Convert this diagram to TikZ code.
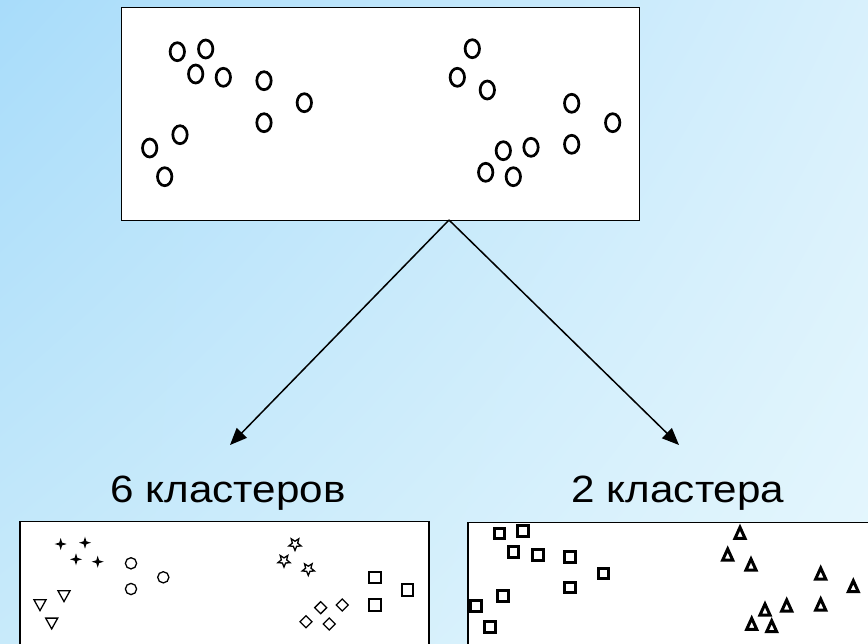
\documentclass[tikz,border=0pt]{standalone}
\usepackage{fontspec}
\setmainfont{Liberation Sans}
\usetikzlibrary{arrows.meta,shadings}
\definecolor{bgUL}{RGB}{168,220,250}
\definecolor{bgUR}{RGB}{216,240,252}
\definecolor{bgLL}{RGB}{200,234,250}
\definecolor{bgLR}{RGB}{230,247,253}
\tikzset{
  panel/.style={draw=black, fill=white, line width=1pt},
  arr/.style={line width=1.5pt, -{Triangle[length=17pt,width=14pt]}},
  lab/.style={font=\fontsize{38}{44}\selectfont, anchor=base, inner sep=0pt},
  bigcirc/.style={line width=2.7pt},
  thinmark/.style={line width=1.3pt},
  thickmark/.style={line width=3pt, line join=miter},
}
\begin{document}
\begin{tikzpicture}[x=1pt,y=-1pt]
\useasboundingbox (0,0) rectangle (868,643);
\clip (0,0) rectangle (868,643);
\shade[upper left=bgUL, upper right=bgUR, lower left=bgLL, lower right=bgLR] (0,0) rectangle (868,643);

% top panel
\node[panel, minimum width=518pt, minimum height=213pt, inner sep=0pt] (top) at (380,113.5) {};
\foreach \x/\y in {177.3/51.7, 205.7/49, 195.7/74, 223.3/77.3, 264/80.7, 304.3/102.7, 264/122.7,
  180/134.7, 149.7/148, 164.7/176.7, 472.3/48.7, 457.3/77.3, 487.3/90, 571.7/103.3, 612.7/122.7,
  571.7/144.3, 531/147.3, 503.3/150.7, 485.7/172.3, 513.3/176.7}
  \draw[bigcirc] (\x,\y) ellipse [x radius=7.2pt, y radius=9pt];

% bottom-left panel
\node[panel, line width=1.3pt, minimum width=409pt, minimum height=140pt, inner sep=0pt, anchor=north west] (left) at (19.3,521) {};
% 4-point stars
\foreach \x/\y in {60.7/544, 85/542.7, 76/559.3, 97.7/561.7}
  \fill[shift={(\x,\y)}] (0,-6) -- (1.4,-1.4) -- (6,0) -- (1.4,1.4) -- (0,6) -- (-1.4,1.4) -- (-6,0) -- (-1.4,-1.4) -- cycle;
% circles
\foreach \x/\y in {131/563.3, 163.3/577.3, 131/589}
  \draw[thinmark] (\x,\y) circle [radius=5.6pt];
% down triangles
\foreach \x/\y in {64/596, 40/605, 51.7/623.3}
  \draw[thinmark, line join=miter, shift={(\x,\y)}] (-6,-5.2) -- (6,-5.2) -- (0,5.6) -- cycle;
% stars
\foreach \x/\y in {295/544, 284/560.7, 308.3/569}
  \draw[thinmark, line join=miter, shift={(\x,\y)}]
    (90:6.4) -- (126:2.8) -- (162:6.4) -- (198:2.8) -- (234:6.4) -- (270:2.8) -- (306:6.4) -- (342:2.8) -- (18:6.4) -- (54:2.8) -- cycle;
% diamonds
\foreach \x/\y in {320.7/607.7, 342.3/605, 306/621.7, 329.3/624}
  \draw[thinmark, shift={(\x,\y)}] (0,-6) -- (6,0) -- (0,6) -- (-6,0) -- cycle;
% squares
\foreach \x/\y in {375/577.3, 407.3/590, 375/605}
  \draw[line width=2pt, shift={(\x,\y)}] (-5.7,-5.7) rectangle (5.7,5.7);

% bottom-right panel
\node[panel, line width=1.3pt, minimum width=420pt, minimum height=140pt, inner sep=0pt, anchor=north west] (right) at (467.3,521.7) {};
\foreach \x/\y in {499.3/533.3, 522.7/531, 513.3/551.7, 537.7/555, 570/556.7, 603.3/573.3, 570/587.3,
  502.7/596, 476/606, 490/626.7}
  \draw[thickmark, shift={(\x,\y)}] (-5.3,-5.3) rectangle (5.3,5.3);
\foreach \x/\y in {740/533.3, 727.7/555, 751/565, 820.7/574, 853.3/586.7, 820.7/605, 786.7/606,
  765/610, 751.7/624.3, 771.7/626.7}
  \draw[thickmark, shift={(\x,\y)}] (-5,5) -- (5,5) -- (0,-6) -- cycle;

% labels
\node[lab] (lab6) at (228,502) {\scalebox{1.11}[1]{6 кластеров}};
\node[lab] (lab2) at (678,502) {\scalebox{1.11}[1]{2 кластера}};

% arrows
\coordinate (apex) at (449,220);
\coordinate (tipL) at (230,445);
\coordinate (tipR) at (679,445);
\draw[arr] (apex) -- (tipL);
\draw[arr] (apex) -- (tipR);
\end{tikzpicture}
\end{document}
